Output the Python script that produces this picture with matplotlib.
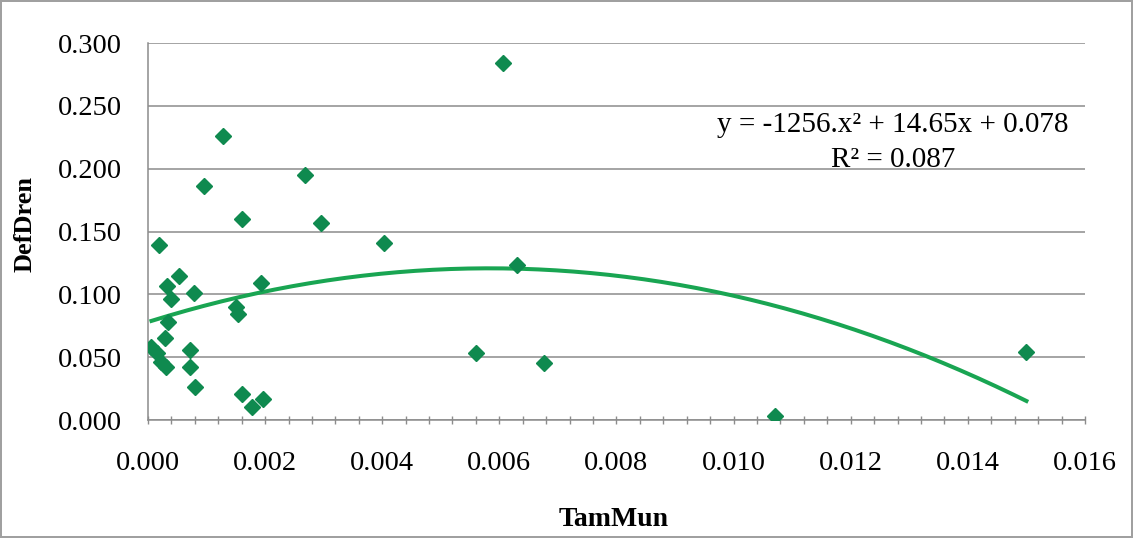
import numpy as np
import matplotlib.pyplot as plt
from matplotlib.ticker import MultipleLocator, FormatStrFormatter

# valores
tam_mun = [0.00006, 0.00015, 0.00023, 0.00031, 0.00019, 0.00029, 0.00034, 0.00033,
           0.00040, 0.00053, 0.00079, 0.00072, 0.00072, 0.00080, 0.00096, 0.00128,
           0.00160, 0.00151, 0.00154, 0.00193, 0.00160, 0.00178, 0.00196, 0.00268,
           0.00295, 0.00403, 0.00607, 0.00631, 0.00560, 0.00676, 0.01070, 0.01500]
def_dren = [0.058, 0.053, 0.046, 0.042, 0.139, 0.065, 0.078, 0.107,
            0.096, 0.115, 0.101, 0.056, 0.042, 0.026, 0.186, 0.226,
            0.160, 0.090, 0.084, 0.109, 0.021, 0.010, 0.017, 0.195,
            0.157, 0.141, 0.284, 0.123, 0.053, 0.045, 0.003, 0.054]

# tendencia polinómica (orden 2) según la etiqueta
trend_coef = [-1256.0, 14.65, 0.078]
eq_label = "y = -1256.x² + 14.65x + 0.078"
r2_label = "R² = 0.087"

plt.rcParams['font.family'] = ['Liberation Serif', 'DejaVu Serif']

fig = plt.figure(figsize=(11.33, 5.38), dpi=100)
fig.patch.set_edgecolor('#a0a0a0')
fig.patch.set_linewidth(1.5)
ax = fig.add_axes([0.1306, 0.2193, 0.8270, 0.7007])

xs = np.linspace(min(tam_mun), max(tam_mun), 200)
ax.plot(xs, np.polyval(trend_coef, xs), color='#19a552', lw=2.9, zorder=2)
ax.plot(tam_mun, def_dren, ls='none', marker='D', ms=8, color='#0f8a4f',
        mec='#0f8a4f', zorder=3)

ax.set_xlim(0, 0.016)
ax.set_ylim(0, 0.300)
ax.xaxis.set_major_locator(MultipleLocator(0.002))
ax.xaxis.set_minor_locator(MultipleLocator(0.0004))
ax.yaxis.set_major_locator(MultipleLocator(0.05))
ax.xaxis.set_major_formatter(FormatStrFormatter('%.3f'))
ax.yaxis.set_major_formatter(FormatStrFormatter('%.3f'))

ax.grid(axis='y', color='#8c8c8c', lw=1.1)
ax.set_axisbelow(True)
for s in ['top', 'right']:
    ax.spines[s].set_visible(False)
for s in ['left', 'bottom']:
    ax.spines[s].set_color('#8c8c8c')
    ax.spines[s].set_linewidth(1.1)

ax.tick_params(axis='x', which='both', direction='inout', length=6, width=1,
               color='#8c8c8c', labelsize=20.5, pad=19)
ax.tick_params(axis='y', length=0, labelsize=20.5, pad=19)

ax.set_xlabel('TamMun', fontsize=20, fontweight='bold')
ax.set_ylabel('DefDren', fontsize=19, fontweight='bold')
ax.xaxis.label.set_va('center')
ax.yaxis.label.set_va('center')
ax.xaxis.set_label_coords(0.497, -0.265)
ax.yaxis.set_label_coords(-0.131, 0.52)

ax.text(0.01272, 0.2347, eq_label, ha='center', va='center', fontsize=21)
ax.text(0.01272, 0.2069, r2_label, ha='center', va='center', fontsize=21)

fig.savefig('out.png', dpi=100)
